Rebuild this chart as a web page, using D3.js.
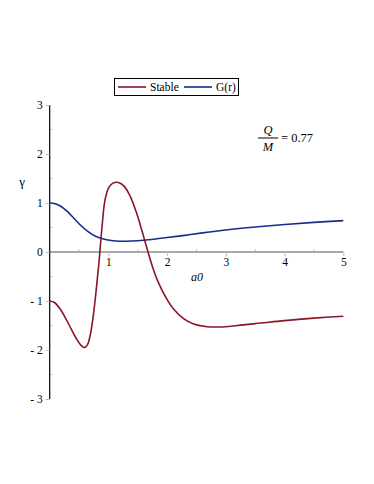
<!DOCTYPE html>
<html><head><meta charset="utf-8">
<script src="https://cdn.jsdelivr.net/npm/d3@7"></script>
<style>body{margin:0;background:#fff}text{font-family:"Liberation Serif","DejaVu Serif",serif}</style>
</head><body><svg id="c" width="374" height="484"></svg>
<script>
const stableX = [0,0.08,0.17,0.27,0.37,0.46,0.53,0.59,0.64,0.69,0.74,0.79,0.84,0.89,0.94,1.0,1.07,1.17,1.27,1.37,1.47,1.57,1.66,1.75,1.85,1.98,2.12,2.28,2.45,2.65,2.9,3.2,3.6,4.0,4.5,5];
const stableY = [-1.0,-1.03,-1.15,-1.35,-1.58,-1.78,-1.9,-1.95,-1.9,-1.7,-1.32,-0.8,-0.2,0.5,1.05,1.3,1.4,1.42,1.34,1.14,0.83,0.44,0.06,-0.3,-0.62,-0.93,-1.18,-1.36,-1.47,-1.52,-1.53,-1.5,-1.45,-1.4,-1.35,-1.31];
const gX = [0,0.08,0.18,0.3,0.42,0.54,0.66,0.78,0.9,1.05,1.2,1.4,1.6,1.8,2.0,2.3,2.6,3.0,3.5,4.0,4.5,5];
const gY = [1.0,0.99,0.94,0.83,0.68,0.53,0.41,0.32,0.27,0.235,0.22,0.225,0.24,0.265,0.295,0.34,0.39,0.45,0.51,0.56,0.605,0.64];
const xTicks = [1,2,3,4,5];
const yTicks = [-3,-2,-1,0,1,2,3];
const legendLabels = ["Stable","G(r)"];

const svg = d3.select("#c");
const x = d3.scaleLinear().domain([0,5]).range([49.7,343.3]);
const y = d3.scaleLinear().domain([-3,3]).range([399,105]);
const red = "#8a1526", blue = "#1b2b8c";
const serif = "Liberation Serif";

// minor ticks
const minorY = d3.range(-2.5,3,1);
svg.selectAll(".my").data(minorY).enter().append("line")
  .attr("x1",x(0)).attr("x2",x(0)+3).attr("y1",d=>y(d)).attr("y2",d=>y(d))
  .attr("stroke","#ccc").attr("stroke-width",1);
const minorX = d3.range(0.5,5,1);
svg.selectAll(".mx").data(minorX).enter().append("line")
  .attr("x1",d=>x(d)).attr("x2",d=>x(d)).attr("y1",y(0)).attr("y2",y(0)-3)
  .attr("stroke","#ccc").attr("stroke-width",1);

// x axis
const xa = svg.append("g").attr("transform",`translate(0,${y(0)})`)
  .call(d3.axisBottom(x).tickValues(xTicks).tickSize(4).tickPadding(2).tickFormat(d3.format("d")));
xa.attr("font-family",serif);
xa.select(".domain").attr("stroke","#555").attr("d",`M${x(0)},0H${x(5)}`);
xa.selectAll(".tick line").attr("stroke","#bbb");
xa.selectAll("text").attr("font-size",11.5).attr("fill","#000");

// y axis
const ya = svg.append("g").attr("transform",`translate(${x(0)},0)`)
  .call(d3.axisLeft(y).tickValues(yTicks).tickSize(4).tickPadding(3).tickFormat(d=> d<0 ? "- "+Math.abs(d) : d));
ya.attr("font-family",serif);
ya.select(".domain").attr("stroke","#000").attr("stroke-width",1.2).attr("d",`M0,${y(3)}V${y(-3)}`);
ya.selectAll(".tick line").attr("stroke","#bbb");
ya.selectAll("text").attr("font-size",11.5).attr("fill","#000");

const line = d3.line().x(d=>x(d[0])).y(d=>y(d[1])).curve(d3.curveCatmullRom.alpha(0.5));
svg.append("path").datum(gX.map((v,i)=>[v,gY[i]])).attr("d",line)
  .attr("fill","none").attr("stroke",blue).attr("stroke-width",1.6);
svg.append("path").datum(stableX.map((v,i)=>[v,stableY[i]])).attr("d",line)
  .attr("fill","none").attr("stroke",red).attr("stroke-width",1.6);

// labels
svg.append("text").attr("x",22).attr("y",186).attr("text-anchor","middle").attr("font-size",13).text("γ");
svg.append("text").attr("x",197).attr("y",281).attr("text-anchor","middle").attr("font-size",12).attr("font-style","italic").text("a0");

// Q/M
svg.append("text").attr("x",268).attr("y",134).attr("text-anchor","middle").attr("font-size",12.5).attr("font-style","italic").text("Q");
svg.append("line").attr("x1",258).attr("x2",278).attr("y1",138).attr("y2",138).attr("stroke","#000").attr("stroke-width",1);
svg.append("text").attr("x",268).attr("y",151).attr("text-anchor","middle").attr("font-size",12.5).attr("font-style","italic").text("M");
svg.append("text").attr("x",281).attr("y",142).attr("font-size",12.5).text("= 0.77");

// legend
svg.append("rect").attr("x",114.5).attr("y",78.5).attr("width",124).attr("height",17)
  .attr("fill","#fff").attr("stroke","#000").attr("stroke-width",1);
const lg = [[118,146,150,red],[184,212,216,blue]];
lg.forEach((p,i)=>{
  svg.append("line").attr("x1",p[0]).attr("x2",p[1]).attr("y1",87).attr("y2",87).attr("stroke",p[3]).attr("stroke-width",1.6);
  svg.append("text").attr("x",p[2]).attr("y",91).attr("font-size",11.5).text(legendLabels[i]);
});
</script></body></html>
